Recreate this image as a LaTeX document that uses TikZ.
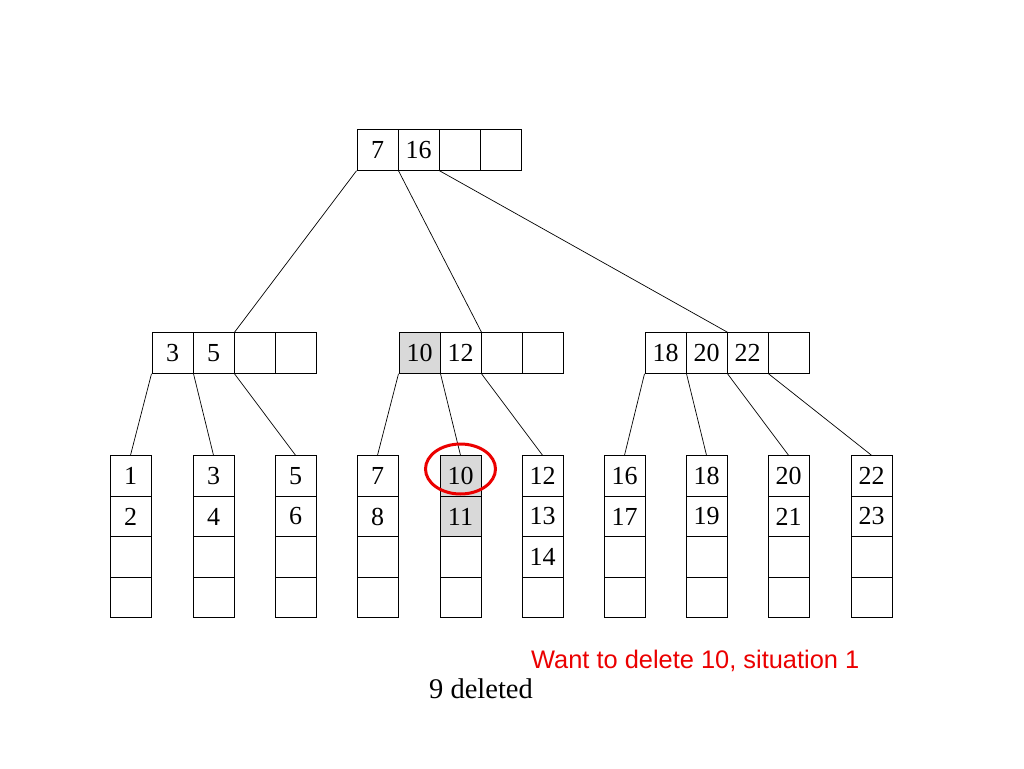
\documentclass[tikz,border=0pt]{standalone}
\usepackage{fontspec}
\setmainfont{Liberation Serif}
\newfontfamily\notefont{Liberation Sans}
\definecolor{keygray}{RGB}{217,217,217}
\definecolor{notered}{RGB}{235,0,0}
\tikzset{
  cell/.style={draw, line width=1pt, minimum width=41pt, minimum height=40.5pt,
    inner sep=0pt, font=\fontsize{26}{30}\selectfont},
  hit/.style={cell, fill=keygray},
  link/.style={draw, line width=0.7pt},
}
\begin{document}
\begin{tikzpicture}[x=1pt,y=-1pt]
\useasboundingbox (0,0) rectangle (1024,768);
% root
\node[cell] (r1) at (377.5,150) {7};
\node[cell] (r2) at (418.5,150) {16};
\node[cell] (r3) at (459.5,150) {};
\node[cell] (r4) at (500.5,150) {};
% inner nodes
\node[cell] (a1) at (172.5,353) {3};
\node[cell] (a2) at (213.5,353) {5};
\node[cell] (a3) at (254.5,353) {};
\node[cell] (a4) at (295.5,353) {};
\node[hit] (b1) at (419.5,353) {10};
\node[cell] (b2) at (460.5,353) {12};
\node[cell] (b3) at (501.5,353) {};
\node[cell] (b4) at (542.5,353) {};
\node[cell] (c1) at (665.5,353) {18};
\node[cell] (c2) at (706.5,353) {20};
\node[cell] (c3) at (747.5,353) {22};
\node[cell] (c4) at (788.5,353) {};
% leaves
\node[cell] (l1a) at (130.5,476) {1};
\node[cell] (l1b) at (130.5,516.5) {2};
\node[cell] (l1c) at (130.5,557) {};
\node[cell] (l1d) at (130.5,597.5) {};
\node[cell] (l2a) at (213.5,476) {3};
\node[cell] (l2b) at (213.5,516.5) {4};
\node[cell] (l2c) at (213.5,557) {};
\node[cell] (l2d) at (213.5,597.5) {};
\node[cell] (l3a) at (295.5,476) {5};
\node[cell] (l3b) at (295.5,516.5) {6};
\node[cell] (l3c) at (295.5,557) {};
\node[cell] (l3d) at (295.5,597.5) {};
\node[cell] (l4a) at (377.5,476) {7};
\node[cell] (l4b) at (377.5,516.5) {8};
\node[cell] (l4c) at (377.5,557) {};
\node[cell] (l4d) at (377.5,597.5) {};
\node[hit] (l5a) at (460.5,476) {10};
\node[hit] (l5b) at (460.5,516.5) {11};
\node[cell] (l5c) at (460.5,557) {};
\node[cell] (l5d) at (460.5,597.5) {};
\node[cell] (l6a) at (542.5,476) {12};
\node[cell] (l6b) at (542.5,516.5) {13};
\node[cell] (l6c) at (542.5,557) {14};
\node[cell] (l6d) at (542.5,597.5) {};
\node[cell] (l7a) at (624.5,476) {16};
\node[cell] (l7b) at (624.5,516.5) {17};
\node[cell] (l7c) at (624.5,557) {};
\node[cell] (l7d) at (624.5,597.5) {};
\node[cell] (l8a) at (706.5,476) {18};
\node[cell] (l8b) at (706.5,516.5) {19};
\node[cell] (l8c) at (706.5,557) {};
\node[cell] (l8d) at (706.5,597.5) {};
\node[cell] (l9a) at (788.5,476) {20};
\node[cell] (l9b) at (788.5,516.5) {21};
\node[cell] (l9c) at (788.5,557) {};
\node[cell] (l9d) at (788.5,597.5) {};
\node[cell] (l10a) at (871.5,476) {22};
\node[cell] (l10b) at (871.5,516.5) {23};
\node[cell] (l10c) at (871.5,557) {};
\node[cell] (l10d) at (871.5,597.5) {};
% pointers
\path[link] (r1.south west) -- (a2.north east);
\path[link] (r1.south east) -- (b2.north east);
\path[link] (r2.south east) -- (c2.north east);
\path[link] (a1.south west) -- (l1a.north);
\path[link] (a1.south east) -- (l2a.north);
\path[link] (a2.south east) -- (l3a.north);
\path[link] (b1.south west) -- (l4a.north);
\path[link] (b1.south east) -- (l5a.north);
\path[link] (b2.south east) -- (l6a.north);
\path[link] (c1.south west) -- (l7a.north);
\path[link] (c1.south east) -- (l8a.north);
\path[link] (c2.south east) -- (l9a.north);
\path[link] (c3.south east) -- (l10a.north);
% mark and notes
\draw[notered, line width=3pt] ([yshift=7pt]l5a.center) ellipse [x radius=35, y radius=25];
\node[anchor=base west, inner sep=0pt, text=notered, font=\notefont\fontsize{25.4}{30}\selectfont] (note) at (531,668) {Want to delete 10, situation 1};
\node[anchor=base west, inner sep=0pt, font=\fontsize{28.5}{34}\selectfont] (gone) at (429,698) {9 deleted};
\end{tikzpicture}
\end{document}
